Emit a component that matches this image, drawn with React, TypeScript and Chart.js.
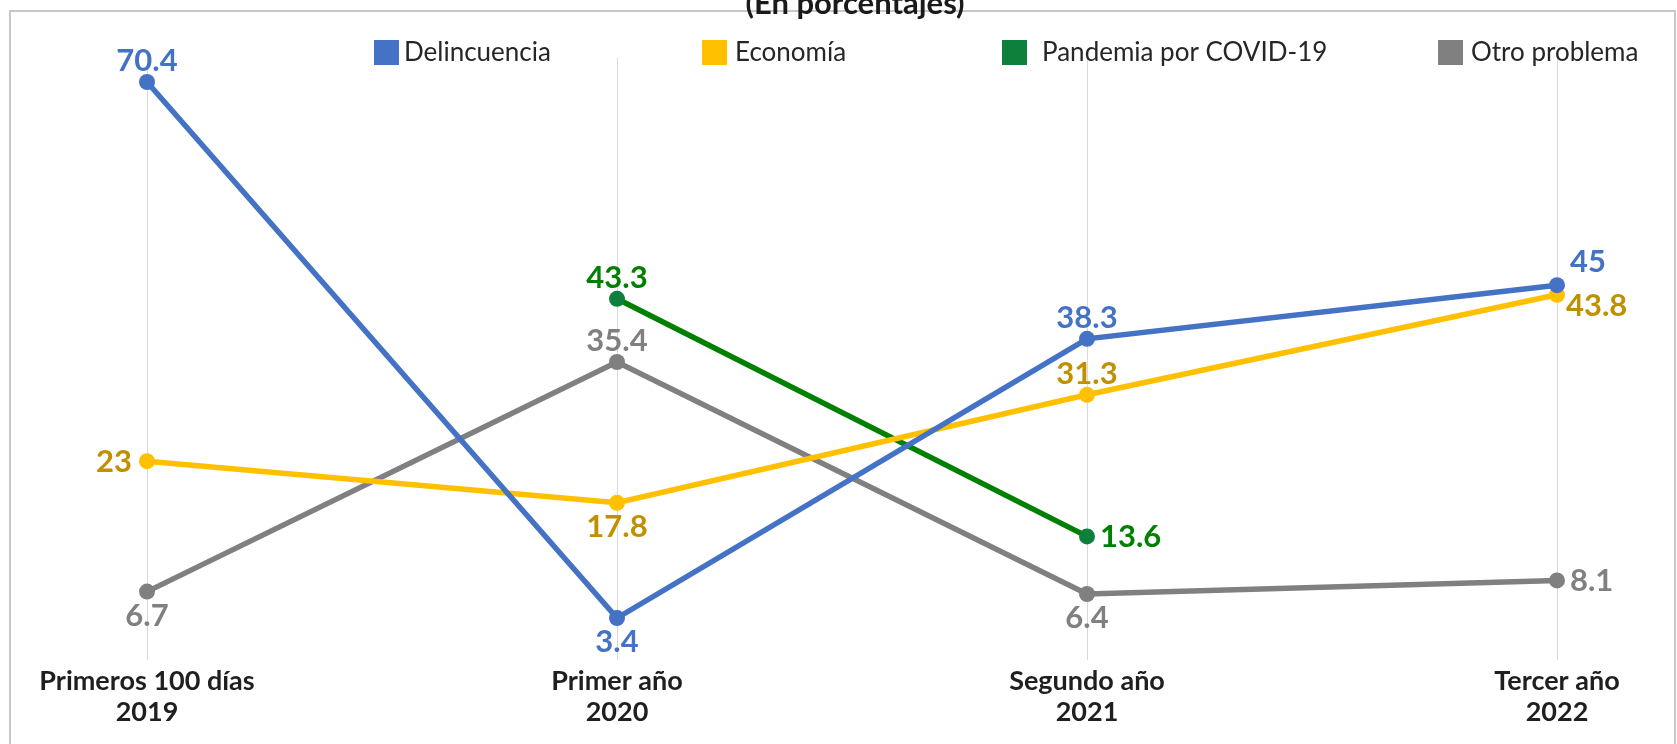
import { useEffect, useRef } from "react";
import { Chart, registerables } from "chart.js";

Chart.register(...registerables);

// ---- data ----
const categories: string[][] = [
  ["Primeros 100 días", "2019"],
  ["Primer año", "2020"],
  ["Segundo año", "2021"],
  ["Tercer año", "2022"],
];
const seriesNames = ["Delincuencia", "Economía", "Pandemia por COVID-19", "Otro problema"];
const delincuencia = [70.4, 3.4, 38.3, 45];
const economia = [23, 17.8, 31.3, 43.8];
const pandemia = [null, 43.3, 13.6, null];
const otroProblema = [6.7, 35.4, 6.4, 8.1];
const chartTitle = "(En porcentajes)";

// ---- styles ----
const lineColors = ["#4472C4", "#FFC000", "#008000", "#808080"];
const markerColors = ["#4472C4", "#FFC000", "#0E7F3C", "#808080"];
const labelColors = ["#4472C4", "#BF9000", "#008000", "#808080"];
const labelPlacement: (string | null)[][] = [
  ["top", "bottom", "top", "rightUp"],
  ["left", "bottom", "top", "rightDown"],
  [null, "top", "right", null],
  ["bottom", "top", "bottom", "right"],
];
const legendBoxX = [374, 702, 1002, 1438];
const legendTextX = [404, 735, 1042, 1471];
const FONT = "Lato, 'Noto Sans', sans-serif";

const framePlugin = {
  id: "frame",
  beforeDraw(chart: any) {
    const ctx = chart.ctx;
    ctx.save();
    ctx.fillStyle = "#FFFFFF";
    ctx.fillRect(0, 0, chart.width, chart.height);
    ctx.strokeStyle = "#C8C8C8";
    ctx.lineWidth = 2;
    ctx.strokeRect(10, 11, 1665, 900);
    ctx.restore();
  },
  afterDraw(chart: any) {
    const ctx = chart.ctx;
    ctx.save();
    // title (cut at top)
    ctx.font = `bold 31px ${FONT}`;
    ctx.fillStyle = "#1A1A1A";
    ctx.textAlign = "center";
    ctx.textBaseline = "alphabetic";
    ctx.fillText(chartTitle, 855, 14);
    // legend
    ctx.font = `26px ${FONT}`;
    ctx.textAlign = "left";
    ctx.textBaseline = "middle";
    chart.data.datasets.forEach((ds: any, i: number) => {
      ctx.fillStyle = markerColors[i];
      ctx.fillRect(legendBoxX[i], 40, 25, 25);
      ctx.fillStyle = "#262626";
      ctx.fillText(ds.label, legendTextX[i], 53);
    });
    ctx.restore();
  },
};

const labelPlugin = {
  id: "pointLabels",
  afterDatasetsDraw(chart: any) {
    const ctx = chart.ctx;
    ctx.save();
    ctx.font = `bold 31px ${FONT}`;
    chart.data.datasets.forEach((ds: any, i: number) => {
      const meta = chart.getDatasetMeta(i);
      meta.data.forEach((pt: any, j: number) => {
        const v = ds.data[j];
        const place = labelPlacement[i][j];
        if (v === null || v === undefined || !place) return;
        const text = String(v);
        let x = pt.x;
        let y = pt.y;
        ctx.fillStyle = labelColors[i];
        ctx.textBaseline = "middle";
        if (place === "top") {
          ctx.textAlign = "center";
          y -= 22;
        } else if (place === "bottom") {
          ctx.textAlign = "center";
          y += 23;
        } else if (place === "left") {
          ctx.textAlign = "right";
          x -= 15;
        } else if (place === "right") {
          ctx.textAlign = "left";
          x += 13;
        } else if (place === "rightUp") {
          ctx.textAlign = "left";
          x += 13;
          y -= 24;
        } else if (place === "rightDown") {
          ctx.textAlign = "left";
          x += 9;
          y += 10;
        }
        ctx.fillText(text, x, y + 1);
      });
    });
    ctx.restore();
  },
};

export default function App() {
  const ref = useRef<HTMLCanvasElement>(null);
  useEffect(() => {
    const canvas = ref.current!;
    Chart.defaults.font.family = FONT;
    const values = [delincuencia, economia, pandemia, otroProblema];
    const chart = new Chart(canvas, {
      type: "line",
      data: {
        labels: categories,
        datasets: values.map((d, i) => ({
          label: seriesNames[i],
          data: d as any,
          borderColor: lineColors[i],
          backgroundColor: markerColors[i],
          pointBackgroundColor: markerColors[i],
          pointBorderColor: markerColors[i],
          pointRadius: 8,
          pointBorderWidth: 0,
          borderWidth: 5.5,
          tension: 0,
          spanGaps: false,
          fill: false,
        })),
      },
      options: {
        responsive: false,
        animation: false,
        devicePixelRatio: 1,
        layout: { padding: { top: 58, left: 147, right: 120, bottom: 0 } },
        plugins: {
          legend: { display: false },
          title: { display: false },
          tooltip: { enabled: false },
        },
        scales: {
          x: {
            offset: false,
            grid: { color: "#D9D9D9", lineWidth: 1, drawTicks: false, tickLength: 0 },
            border: { display: false },
            afterFit(scale: any) {
              scale.height = 84;
            },
            ticks: {
              padding: 6,
              autoSkip: false,
              maxRotation: 0,
              color: "#1F1F1F",
              font: { family: FONT, weight: "bold", size: 27, lineHeight: 1.148 },
            },
          },
          y: { display: false, min: -1.85, max: 73.4 },
        },
      },
      plugins: [framePlugin, labelPlugin],
    } as any);
    return () => chart.destroy();
  }, []);
  return (
    <div style={{ position: "fixed", left: 0, top: 0, width: 1677, height: 744, background: "#fff" }}>
      <canvas ref={ref} width={1677} height={744} style={{ width: 1677, height: 744, display: "block" }} />
    </div>
  );
}
